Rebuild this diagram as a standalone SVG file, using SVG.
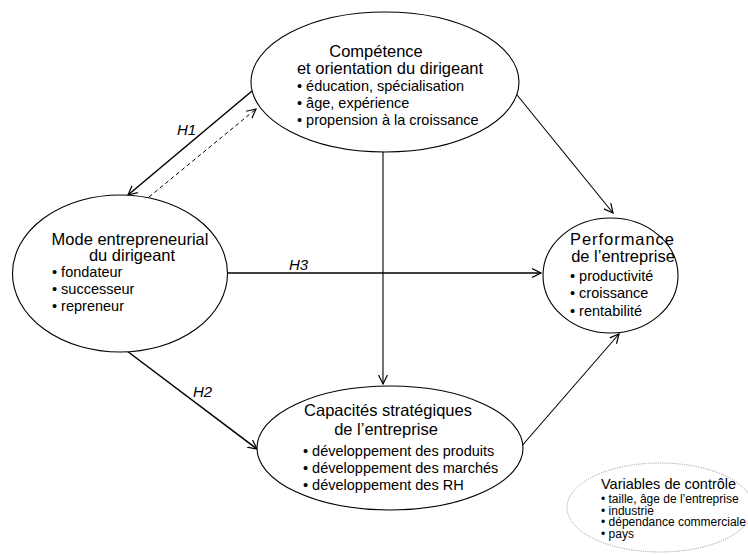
<svg xmlns="http://www.w3.org/2000/svg" width="748" height="554" viewBox="0 0 748 554">
<style>
  .node ellipse { fill: #ffffff; stroke: #000000; stroke-width: 1.1; }
  .ctrl ellipse { fill: none; stroke: #888888; stroke-width: 0.8; stroke-dasharray: 1.2,1.2; }
  text { font-family: "Liberation Sans", Arial, sans-serif; fill: #000000; }
  .title { font-size: 16.5px; text-anchor: middle; }
  .item { font-size: 14.5px; }
  .ctitle { font-size: 14.5px; }
  .citem { font-size: 12px; }
  .lbl { font-size: 15px; font-style: italic; }
  .conn line { stroke: #000000; fill: none; }
</style>
<defs>
  <marker id="arr" markerUnits="userSpaceOnUse" markerWidth="12" markerHeight="12" refX="9" refY="5" orient="auto">
    <path d="M0,0.5 L9,5 L0,9.5" fill="none" stroke="#000000" stroke-width="1.2"/>
  </marker>
</defs>
<rect width="748" height="554" fill="#ffffff"/>

<g id="connectors" class="conn">
  <line x1="252" y1="91" x2="128" y2="195" stroke-width="1.5" marker-end="url(#arr)"/>
  <line x1="149" y1="197" x2="256" y2="109" stroke-width="1" stroke-dasharray="4,3" marker-end="url(#arr)"/>
  <line x1="513" y1="90" x2="613" y2="213" stroke-width="1.1" marker-end="url(#arr)"/>
  <line x1="383" y1="152" x2="383" y2="384" stroke-width="1.1" marker-end="url(#arr)"/>
  <line x1="228" y1="273" x2="541" y2="273" stroke-width="1.4" marker-end="url(#arr)"/>
  <line x1="127" y1="351" x2="257" y2="449" stroke-width="1.5" marker-end="url(#arr)"/>
  <line x1="520" y1="448" x2="619" y2="334" stroke-width="1.1" marker-end="url(#arr)"/>
  <text class="lbl" x="177" y="135">H1</text>
  <text class="lbl" x="289" y="270">H3</text>
  <text class="lbl" x="193" y="397">H2</text>
</g>

<g id="competence" class="node">
  <ellipse cx="385" cy="82" rx="134" ry="70"/>
  <text class="title" x="376" y="57">Compétence</text>
  <text class="title" x="390" y="74">et orientation du dirigeant</text>
  <text class="item" x="297" y="91">• éducation, spécialisation</text>
  <text class="item" x="297" y="108">• âge, expérience</text>
  <text class="item" x="297" y="125">• propension à la croissance</text>
</g>

<g id="mode" class="node">
  <ellipse cx="120" cy="273.5" rx="107.5" ry="78.5"/>
  <text class="title" x="130" y="245">Mode entrepreneurial</text>
  <text class="title" x="132" y="261">du dirigeant</text>
  <text class="item" x="52" y="277">• fondateur</text>
  <text class="item" x="52" y="294">• successeur</text>
  <text class="item" x="52" y="311">• repreneur</text>
</g>

<g id="performance" class="node">
  <ellipse cx="610.5" cy="275.5" rx="67.5" ry="57.5"/>
  <text class="title" x="622" y="245" textLength="104">Performance</text>
  <text class="title" x="623" y="262">de l’entreprise</text>
  <text class="item" x="570" y="281">• productivité</text>
  <text class="item" x="570" y="298">• croissance</text>
  <text class="item" x="570" y="316">• rentabilité</text>
</g>

<g id="capacites" class="node">
  <ellipse cx="390" cy="448" rx="133" ry="62"/>
  <text class="title" x="388" y="416">Capacités stratégiques</text>
  <text class="title" x="386" y="435">de l’entreprise</text>
  <text class="item" x="303" y="456">• développement des produits</text>
  <text class="item" x="303" y="473">• développement des marchés</text>
  <text class="item" x="303" y="490">• développement des RH</text>
</g>

<g id="controle" class="ctrl">
  <ellipse cx="660" cy="507.5" rx="93" ry="44.5"/>
  <text class="ctitle" x="601" y="489">Variables de contrôle</text>
  <text class="citem" x="601" y="503">• taille, âge de l’entreprise</text>
  <text class="citem" x="601" y="514.5">• industrie</text>
  <text class="citem" x="601" y="526">• dépendance commerciale</text>
  <text class="citem" x="601" y="537.5">• pays</text>
</g>
</svg>
